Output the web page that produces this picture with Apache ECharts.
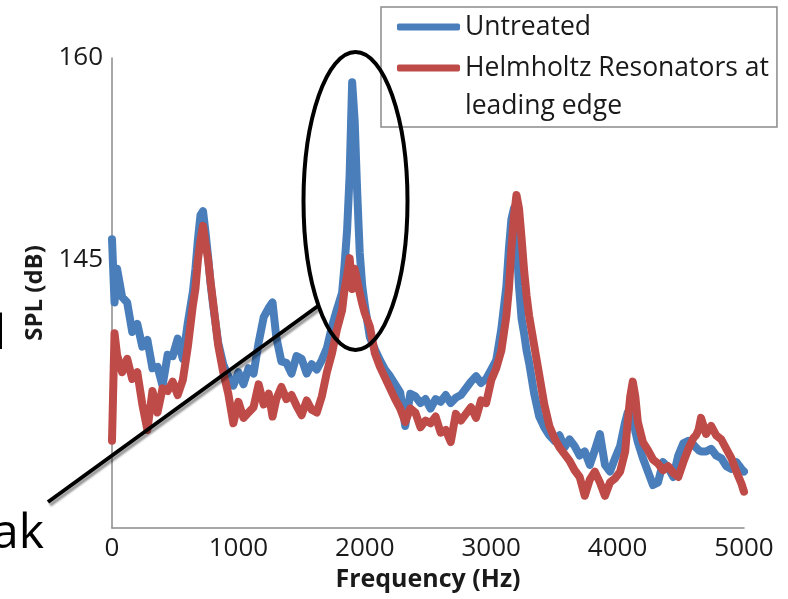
<!DOCTYPE html>
<html>
<head>
<meta charset="utf-8">
<script src="https://cdn.jsdelivr.net/npm/echarts@6/dist/echarts.min.js"></script>
<style>
html,body{margin:0;padding:0;background:#fff;}
#chart{width:788px;height:599px;}
</style>
</head>
<body>
<div id="chart"></div>
<script>
const freq = [
  0,20,40,80,120,160,200,240,280,320,
  360,400,440,480,520,560,600,640,660,680,
  700,720,740,760,780,800,840,880,920,960,
  1000,1040,1080,1120,1160,1200,1240,1270,1300,1340,
  1380,1420,1460,1500,1540,1580,1620,1660,1700,1740,
  1780,1820,1840,1860,1880,1900,1920,1940,1960,1980,
  2000,2040,2080,2120,2160,2200,2240,2280,2320,2360,
  2400,2440,2480,2520,2560,2600,2640,2680,2720,2760,
  2800,2840,2880,2920,2960,3000,3040,3080,3120,3140,
  3160,3180,3200,3220,3240,3260,3280,3300,3340,3380,
  3420,3460,3500,3540,3580,3620,3660,3700,3740,3780,
  3820,3860,3900,3940,3980,4020,4060,4080,4100,4120,
  4140,4160,4200,4240,4280,4320,4360,4400,4440,4480,
  4520,4560,4600,4620,4640,4660,4700,4740,4780,4820,
  4860,4900,4940,4980,5000
];
const untreated = [
  146.5,141.8,144.3,142.2,141.8,139.6,140.2,138.5,139.0,136.9,
  137.0,135.6,137.9,137.8,139.1,137.6,140.3,142.6,144.3,146.5,
  148.3,148.6,147.0,145.2,143.2,141.6,138.8,137.2,136.3,135.6,
  136.6,135.7,136.9,136.5,138.8,140.7,141.4,141.8,139.2,137.4,
  137.3,136.5,137.8,137.6,136.5,137.2,136.8,137.5,138.4,140.0,
  141.3,142.5,144.6,147.2,151.3,158.2,155.3,150.0,145.5,143.0,
  141.6,139.2,138.3,137.5,136.8,136.3,135.7,135.1,132.6,135.0,
  134.8,134.3,134.6,133.9,134.6,134.4,134.9,134.3,134.7,134.9,
  135.4,135.9,136.3,135.8,136.1,136.8,137.5,139.8,143.0,145.8,
  148.0,148.8,146.5,143.0,140.6,139.5,138.2,137.3,135.0,133.3,
  132.5,131.9,131.5,131.9,131.0,131.6,131.1,130.4,130.7,129.7,
  130.8,132.0,129.7,129.2,130.2,131.1,132.9,133.6,133.9,133.8,
  132.2,131.4,130.2,129.2,128.2,128.4,129.9,129.5,128.8,130.4,
  131.3,131.5,131.2,131.0,130.8,130.7,130.7,130.9,130.4,130.2,
  129.6,129.4,129.9,129.4,129.2
];
const helmholtz = [
  131.5,139.5,137.9,136.6,137.6,136.1,136.6,134.2,132.3,135.2,
  133.6,135.4,135.2,135.9,134.9,136.0,138.5,141.6,142.8,145.0,
  146.4,147.5,146.2,145.0,143.3,141.8,138.6,136.6,135.0,132.8,
  134.4,133.2,133.6,134.0,135.7,134.2,135.0,133.3,134.6,135.5,
  134.6,134.9,134.1,133.4,134.5,133.8,133.6,134.8,136.6,138.0,
  139.8,141.2,142.8,143.8,145.1,142.8,144.3,143.4,142.5,141.7,
  141.0,140.0,138.0,137.0,136.2,135.4,134.6,133.9,132.9,133.9,
  133.6,132.5,133.0,132.8,133.3,132.1,132.3,131.4,133.5,133.0,
  133.5,134.0,133.2,134.5,134.3,136.0,136.9,138.2,140.8,142.8,
  145.8,148.2,149.8,148.8,146.6,144.2,142.3,140.8,138.6,136.4,
  134.2,132.6,131.7,131.0,130.5,130.0,129.3,128.8,127.4,128.6,
  129.2,128.4,127.4,128.4,128.7,129.2,130.7,132.9,134.8,135.9,
  134.8,132.9,131.4,130.8,130.1,129.8,129.3,129.6,129.1,128.8,
  129.9,130.9,131.7,131.9,132.3,133.2,132.0,132.6,131.9,131.6,
  130.9,130.2,129.2,128.3,127.7
];
const seriesNames = ['Untreated', 'Helmholtz Resonators at\nleading edge'];
const yLabelsShown = [145, 160];
const xAxisTitle = 'Frequency (Hz)';
const yAxisTitle = 'SPL (dB)';

const chart = echarts.init(document.getElementById('chart'), null, {renderer: 'canvas'});
const FONT = '"Open Sans", sans-serif';
const option = {
  backgroundColor: '#ffffff',
  animation: false,
  grid: {left: 112, right: 44, top: 58, bottom: 71, containLabel: false},
  legend: {
    orient: 'vertical',
    left: 381,
    top: 7,
    padding: [1, 8, 2, 16],
    itemGap: -35,
    itemWidth: 63,
    itemHeight: 7,
    backgroundColor: '#ffffff',
    borderColor: '#8a8a8a',
    borderWidth: 1.5,
    borderRadius: 0,
    textStyle: {fontFamily: FONT, fontSize: 26.5, lineHeight: 38, color: '#1a1a1a'},
    formatter: name => name === seriesNames[1] ? '\u00a0\n' + name : name,
    data: [
      {name: seriesNames[0], icon: 'roundRect'},
      {name: seriesNames[1], icon: 'roundRect'}
    ]
  },
  xAxis: {
    type: 'value', min: 0, max: 5000, interval: 1000,
    name: xAxisTitle, nameLocation: 'middle', nameGap: 32,
    nameTextStyle: {fontFamily: FONT, fontSize: 25, fontWeight: 'bold', color: '#1a1a1a'},
    axisLine: {show: true, lineStyle: {color: '#8a8a8a', width: 1.5}},
    axisTick: {show: false},
    splitLine: {show: false},
    axisLabel: {fontFamily: FONT, fontSize: 26, color: '#1a1a1a', margin: 8,
      formatter: v => String(v)}
  },
  yAxis: {
    type: 'value', min: 125, max: 160, interval: 5,
    name: yAxisTitle, nameLocation: 'middle', nameGap: 60, nameRotate: 90,
    nameTextStyle: {fontFamily: FONT, fontSize: 24, fontWeight: 'bold', color: '#1a1a1a'},
    axisLine: {show: true, lineStyle: {color: '#8a8a8a', width: 1.5}},
    axisTick: {show: false},
    splitLine: {show: false},
    axisLabel: {
      fontFamily: FONT, fontSize: 26, color: '#1a1a1a', margin: 9,
      formatter: v => yLabelsShown.indexOf(v) >= 0 ? String(v) : ''
    }
  },
  series: [
    {
      name: seriesNames[0], type: 'line', showSymbol: false, symbol: 'none',
      data: freq.map((f, i) => [f, untreated[i]]),
      itemStyle: {color: '#4a7ebb'},
      lineStyle: {color: '#4a7ebb', width: 8, join: 'round', cap: 'round'},
      z: 2
    },
    {
      name: seriesNames[1], type: 'line', showSymbol: false, symbol: 'none',
      data: freq.map((f, i) => [f, helmholtz[i]]),
      itemStyle: {color: '#be4b48'},
      lineStyle: {color: '#be4b48', width: 8, join: 'round', cap: 'round'},
      z: 3
    }
  ],
  graphic: [
    {type: 'line', z: 100, shape: {x1: 48, y1: 502, x2: 318, y2: 306},
     style: {stroke: '#000', lineWidth: 4, shadowColor: 'rgba(0,0,0,0.4)', shadowBlur: 2, shadowOffsetX: 2, shadowOffsetY: 3}},
    {type: 'ellipse', z: 100, shape: {cx: 355.5, cy: 201, rx: 52, ry: 149},
     style: {stroke: '#000', fill: 'none', lineWidth: 4}},
    {type: 'text', z: 100, x: 6, y: 359,
     style: {text: 'd', font: '48px ' + FONT, fill: '#000', textAlign: 'right', textVerticalAlign: 'bottom'}},
    {type: 'text', z: 100, x: 44, y: 558,
     style: {text: 'ak', font: '48px ' + FONT, fill: '#000', textAlign: 'right', textVerticalAlign: 'bottom'}}
  ]
};
chart.setOption(option);
</script>
</body>
</html>
